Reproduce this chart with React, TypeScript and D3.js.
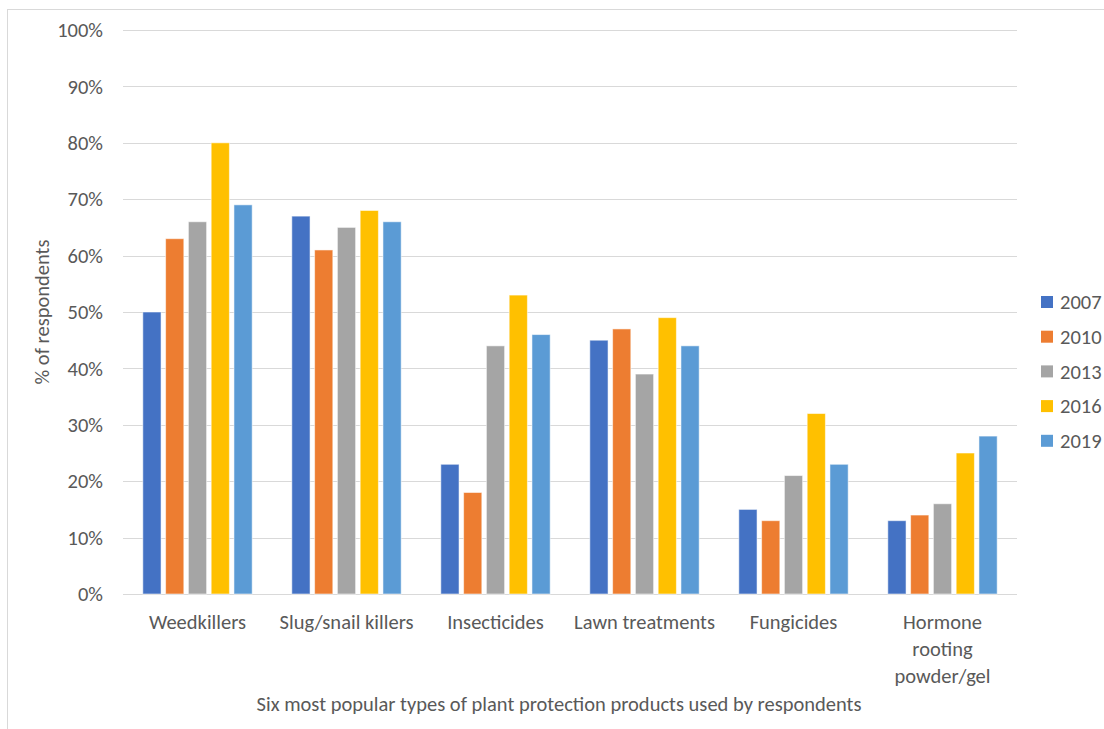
import React, { useEffect, useRef } from "react";
import * as d3 from "d3";

// Six most popular plant protection product types, share of respondents (%)
const categories = [
  "Weedkillers",
  "Slug/snail killers",
  "Insecticides",
  "Lawn treatments",
  "Fungicides",
  "Hormone rooting powder/gel",
];
// axis labels as they are broken into lines under each cluster
const categoryLabelLines = [
  ["Weedkillers"],
  ["Slug/snail killers"],
  ["Insecticides"],
  ["Lawn treatments"],
  ["Fungicides"],
  ["Hormone", "rooting", "powder/gel"],
];
const years = ["2007", "2010", "2013", "2016", "2019"];
const values2007 = [50, 67, 23, 45, 15, 13];
const values2010 = [63, 61, 18, 47, 13, 14];
const values2013 = [66, 65, 44, 39, 21, 16];
const values2016 = [80, 68, 53, 49, 32, 25];
const values2019 = [69, 66, 46, 44, 23, 28];
const yTicks = [0, 10, 20, 30, 40, 50, 60, 70, 80, 90, 100];
const colors = ["#4472C4", "#ED7D31", "#A5A5A5", "#FFC000", "#5B9BD5"];

const seriesValues = [values2007, values2010, values2013, values2016, values2019];

const W = 1104;
const H = 729;
const FONT = "Carlito, Calibri, 'Liberation Sans', Arial, sans-serif";
const FS = 20.5;
const TEXT = "#595959";
const GRID = "#d9d9d9";

export default function App() {
  const ref = useRef<SVGSVGElement | null>(null);

  useEffect(() => {
    const svg = d3.select(ref.current);
    svg.selectAll("*").remove();

    const left = 123;
    const right = 1017;
    const top = 30;
    const bottom = 594;

    // chart frame
    svg
      .append("rect")
      .attr("x", 7.5)
      .attr("y", 9.5)
      .attr("width", 1200)
      .attr("height", 800)
      .attr("fill", "white")
      .attr("stroke", GRID)
      .attr("stroke-width", 1);

    const x0 = d3
      .scaleBand<string>()
      .domain(categories)
      .range([left, right])
      .paddingInner(0.266)
      .paddingOuter(0.133);
    const x1 = d3
      .scaleBand<string>()
      .domain(years)
      .range([0, x0.bandwidth()])
      .paddingInner(0.2)
      .paddingOuter(0);
    const y = d3.scaleLinear().domain([0, 100]).range([bottom, top]);

    // gridlines
    svg
      .append("g")
      .selectAll("line")
      .data(yTicks)
      .join("line")
      .attr("x1", left)
      .attr("x2", right)
      .attr("y1", (d) => Math.round(y(d)) + 0.5)
      .attr("y2", (d) => Math.round(y(d)) + 0.5)
      .attr("stroke", GRID)
      .attr("stroke-width", 1.2);

    // y tick labels
    svg
      .append("g")
      .selectAll("text")
      .data(yTicks)
      .join("text")
      .attr("x", 103)
      .attr("y", (d) => y(d))
      .attr("dy", "0.35em")
      .attr("text-anchor", "end")
      .attr("font-family", FONT)
      .attr("font-size", FS)
      .attr("fill", TEXT)
      .text((d) => `${d}%`);

    // bars
    const groups = svg
      .append("g")
      .selectAll("g")
      .data(categories)
      .join("g")
      .attr("transform", (c) => `translate(${x0(c)},0)`);

    groups
      .selectAll("rect")
      .data((_c, i) => years.map((yr, s) => ({ yr, s, v: seriesValues[s][i] })))
      .join("rect")
      .attr("x", (d) => x1(d.yr) as number)
      .attr("width", x1.bandwidth())
      .attr("y", (d) => y(d.v))
      .attr("height", (d) => y(0) - y(d.v))
      .attr("fill", (d) => colors[d.s])
      .attr("stroke", "white")
      .attr("stroke-opacity", 0.55)
      .attr("stroke-width", 1);

    // category labels
    svg
      .append("g")
      .selectAll("text")
      .data(categories)
      .join("text")
      .attr("y", 629)
      .attr("text-anchor", "middle")
      .attr("font-family", FONT)
      .attr("font-size", FS)
      .attr("fill", TEXT)
      .each(function (c, i) {
        const cx = (x0(c) as number) + x0.bandwidth() / 2;
        d3.select(this)
          .selectAll("tspan")
          .data(categoryLabelLines[i])
          .join("tspan")
          .attr("x", cx)
          .attr("dy", (_l, k) => (k === 0 ? 0 : 27))
          .text((l) => l);
      });

    // axis titles
    svg
      .append("text")
      .attr("x", 559)
      .attr("y", 711)
      .attr("text-anchor", "middle")
      .attr("font-family", FONT)
      .attr("font-size", FS)
      .attr("fill", TEXT)
      .text("Six most popular types of plant protection products used by respondents");

    svg
      .append("text")
      .attr("transform", `translate(42,${(top + bottom) / 2}) rotate(-90)`)
      .attr("dy", "0.35em")
      .attr("text-anchor", "middle")
      .attr("font-family", FONT)
      .attr("font-size", FS)
      .attr("fill", TEXT)
      .text("% of respondents");

    // legend
    const legend = svg
      .append("g")
      .selectAll("g")
      .data(years)
      .join("g")
      .attr("transform", (_d, i) => `translate(1041,${302 + i * 34.7})`);
    legend
      .append("rect")
      .attr("x", 0)
      .attr("y", -6)
      .attr("width", 12)
      .attr("height", 12)
      .attr("fill", (_d, i) => colors[i]);
    legend
      .append("text")
      .attr("x", 19)
      .attr("y", 0)
      .attr("dy", "0.35em")
      .attr("font-family", FONT)
      .attr("font-size", FS)
      .attr("fill", TEXT)
      .text((d) => d);
  }, []);

  return (
    <svg
      ref={ref}
      width={W}
      height={H}
      style={{ position: "absolute", left: 0, top: 0, background: "white" }}
    />
  );
}
